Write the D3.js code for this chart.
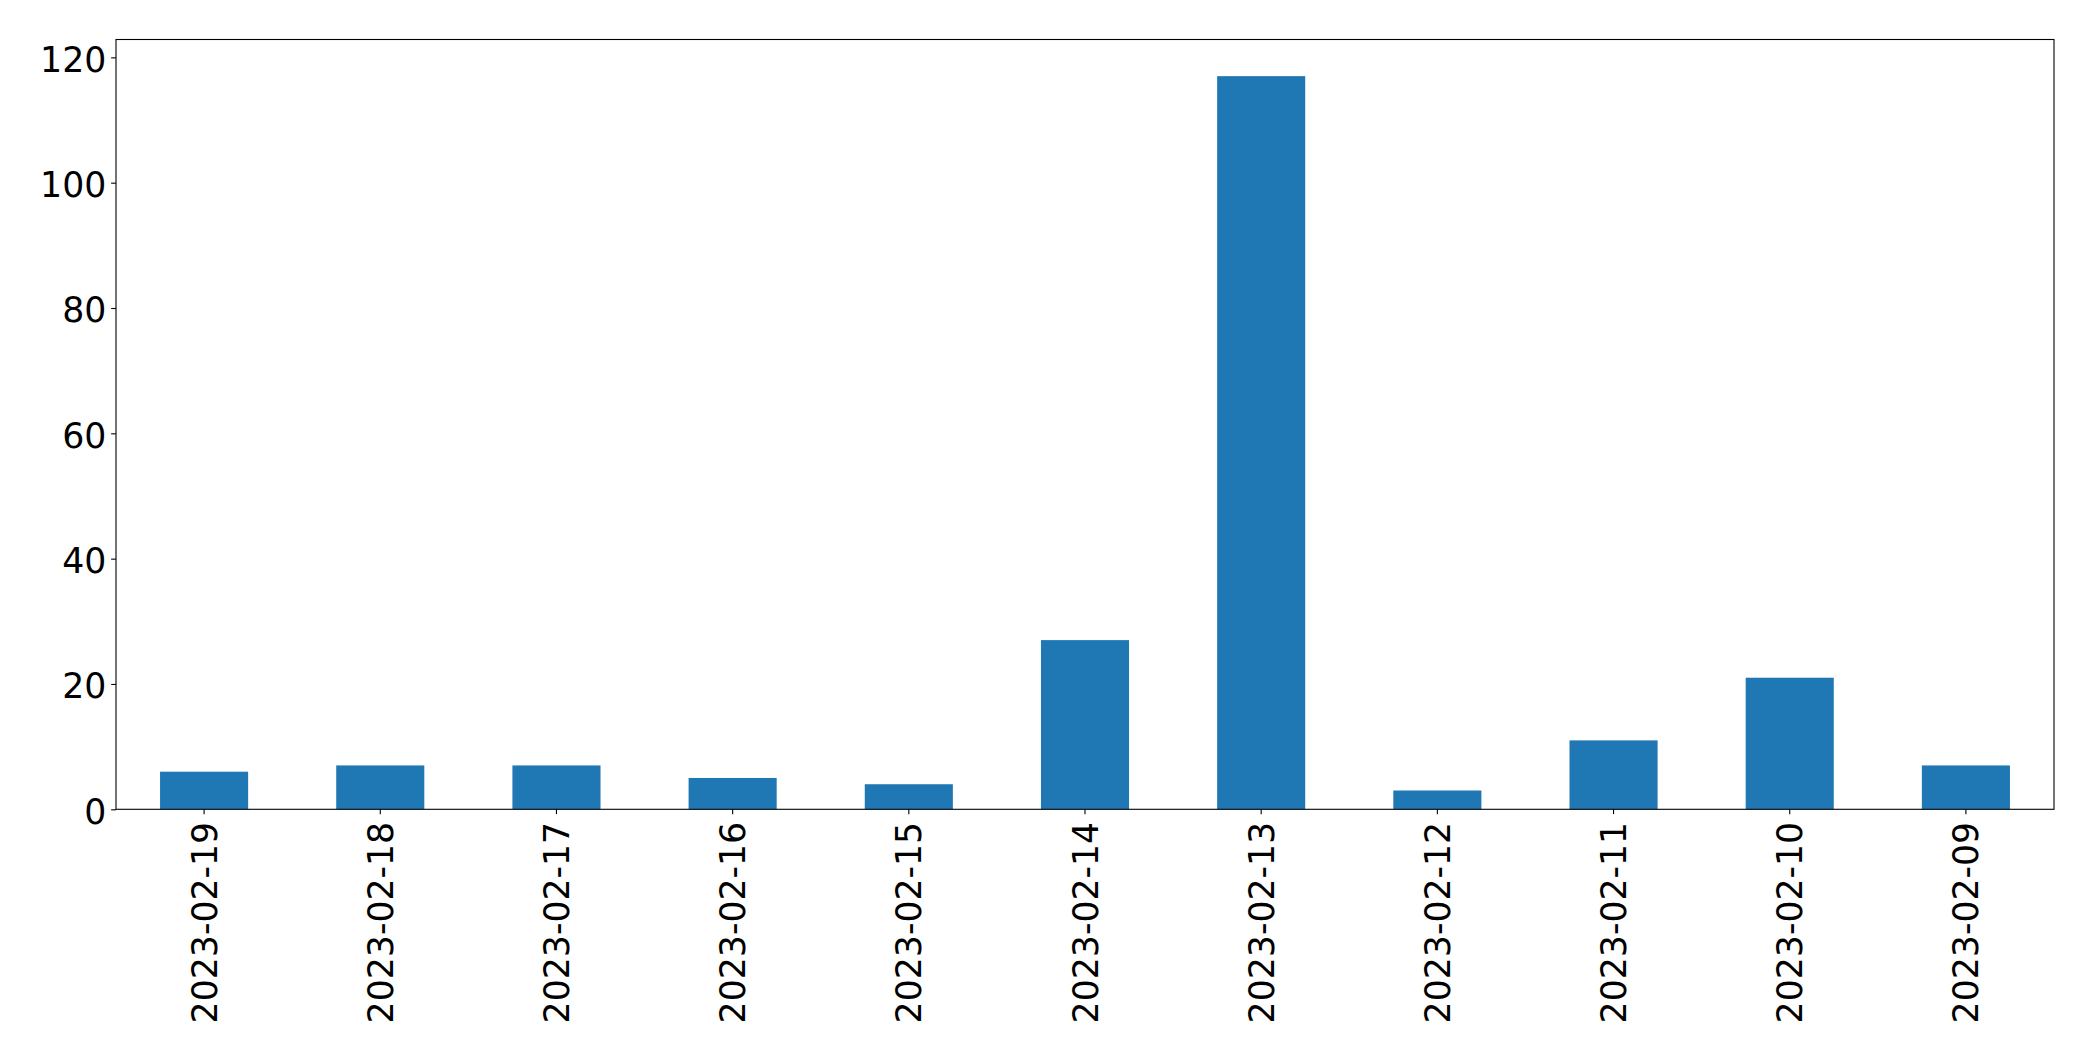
<!DOCTYPE html>
<html><head><meta charset="utf-8">
<script src="https://cdn.jsdelivr.net/npm/d3@7"></script>
<style>body{margin:0;background:#fff}svg{display:block}</style>
</head><body>
<script>
const categories = ["2023-02-19","2023-02-18","2023-02-17","2023-02-16","2023-02-15","2023-02-14","2023-02-13","2023-02-12","2023-02-11","2023-02-10","2023-02-09"];
const values = [6, 7, 7, 5, 4, 27, 117, 3, 11, 21, 7];
const yTicks = [0, 20, 40, 60, 80, 100, 120];

const W = 2093, H = 1061;
const m = {left: 116, right: 2054, top: 39.5, bottom: 809.3};
const svg = d3.select("body").append("svg").attr("width", W).attr("height", H);

const x = d3.scaleBand().domain(categories).range([m.left, m.right]).paddingInner(0.5).paddingOuter(0.25);
const y = d3.scaleLinear().domain([0, d3.max(values) * 1.05]).range([m.bottom, m.top]);

svg.append("g").selectAll("rect").data(values).join("rect")
  .attr("x", (d, i) => x(categories[i]))
  .attr("width", x.bandwidth())
  .attr("y", d => y(d))
  .attr("height", d => y(0) - y(d))
  .attr("fill", "#1f77b4");

const font = "DejaVu Sans";
const fs = "34.7px";

const yAxis = svg.append("g").attr("transform", `translate(${m.left},0)`)
  .call(d3.axisLeft(y).tickValues(yTicks).tickSize(4.86).tickPadding(4.86).tickFormat(d3.format("d")));
yAxis.select(".domain").remove();
yAxis.selectAll("text").attr("font-family", font).attr("font-size", fs).attr("fill", "#000").attr("dy", "0.4em");
yAxis.selectAll("line").attr("stroke", "#000").attr("stroke-width", 1.1);

const xAxis = svg.append("g").attr("transform", `translate(0,${m.bottom})`)
  .call(d3.axisBottom(x).tickSize(4.86).tickPadding(4.86));
xAxis.select(".domain").remove();
xAxis.selectAll("line").attr("stroke", "#000").attr("stroke-width", 1.1);
xAxis.selectAll("text")
  .attr("font-family", font).attr("font-size", fs).attr("fill", "#000")
  .attr("transform", "rotate(-90)")
  .attr("text-anchor", "end")
  .attr("x", -12.5).attr("y", 0).attr("dy", "0.36em");

svg.append("rect").attr("x", m.left).attr("y", m.top)
  .attr("width", m.right - m.left).attr("height", m.bottom - m.top)
  .attr("fill", "none").attr("stroke", "#000").attr("stroke-width", 1.1);
</script>
</body></html>
